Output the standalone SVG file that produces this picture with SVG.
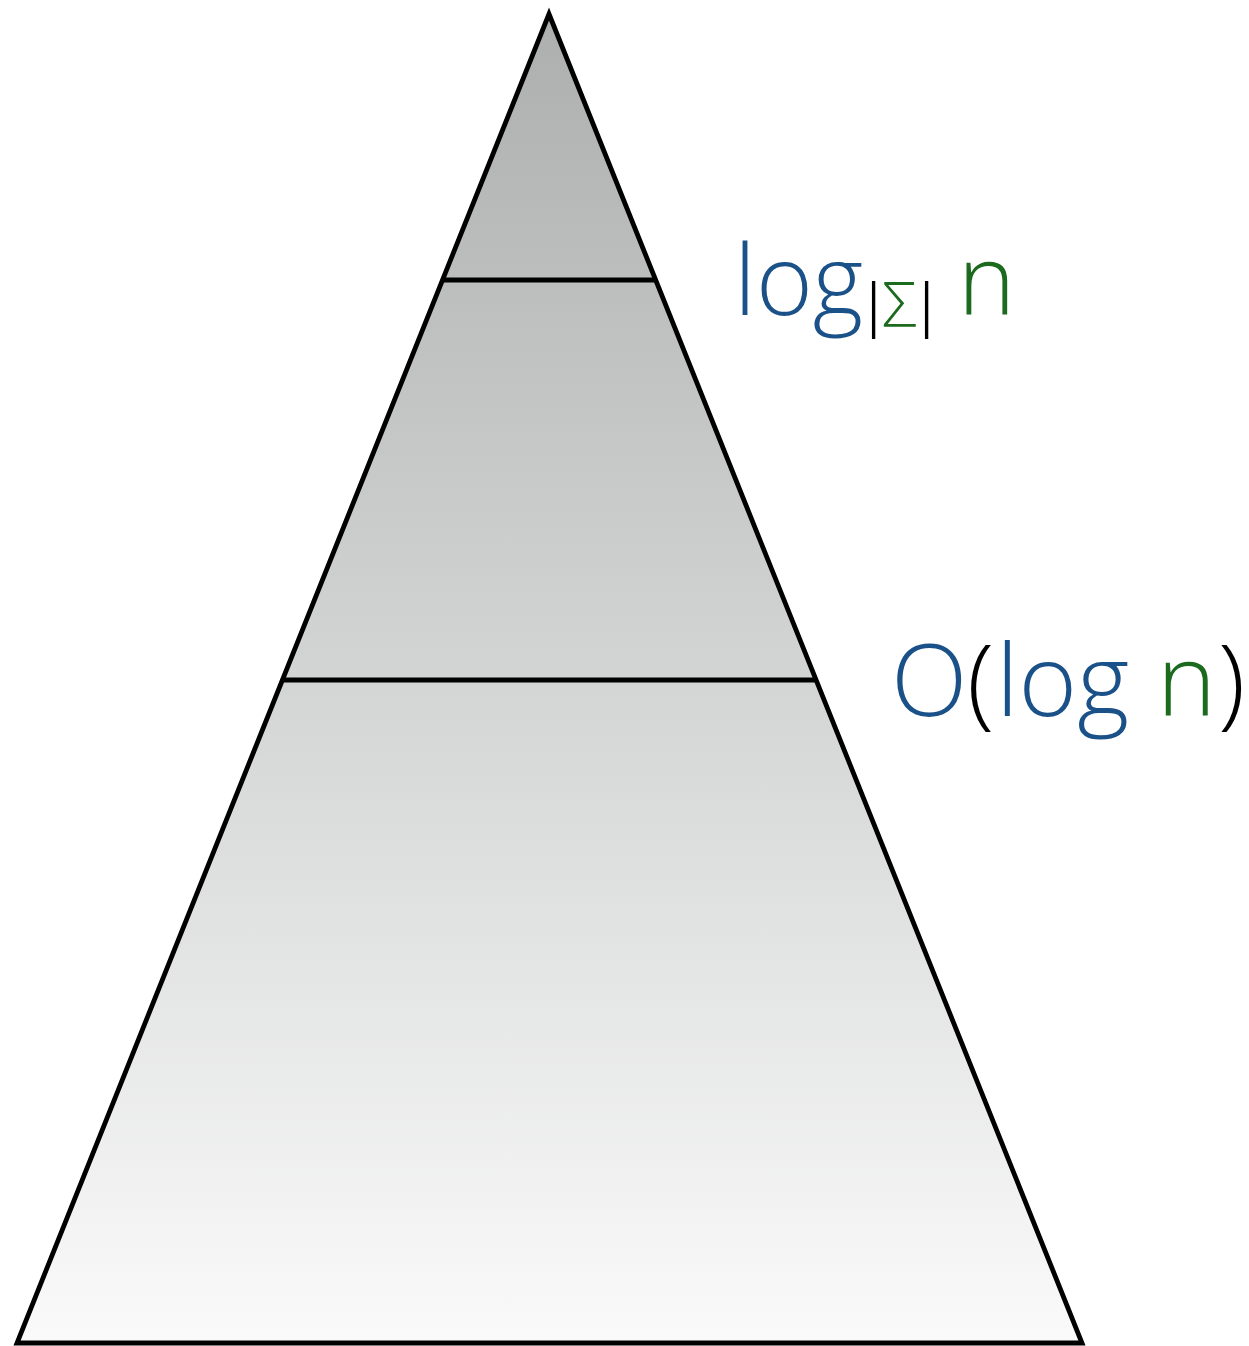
<svg xmlns="http://www.w3.org/2000/svg" width="1249" height="1346" viewBox="0 0 1249 1346">
  <style>
    .edge { stroke: #000; stroke-width: 4.8; stroke-linejoin: miter; }
    .lbl { font-family: "Open Sans", "Liberation Sans", sans-serif; font-weight: 300; }
    .bar { font-family: Roboto, "Liberation Sans", sans-serif; font-weight: 300; fill: #000; }
    .blue { fill: #1b5189; }
    .green { fill: #1c6a1d; }
    .black { fill: #000; }
  </style>
  <defs>
    <linearGradient id="shade" x1="0" y1="12" x2="0" y2="1343" gradientUnits="userSpaceOnUse">
      <stop offset="0" stop-color="#adafae"/>
      <stop offset="0.5" stop-color="#d3d4d4"/>
      <stop offset="1" stop-color="#fafafa"/>
    </linearGradient>
  </defs>
  <g id="pyramid">
    <polygon points="549,14 1082,1343 17,1343" style="fill:url(#shade)" class="edge"/>
  </g>
  <g id="levels">
    <line x1="444" y1="280" x2="655" y2="280" class="edge"/>
    <line x1="284" y1="680" x2="816" y2="680" class="edge"/>
  </g>
  <g id="label-top">
    <text class="lbl" font-size="97" y="315"><tspan class="blue" x="734">log</tspan><tspan class="bar" font-size="68" x="866" y="330">|</tspan><tspan class="green" font-size="63" x="882" y="327">Σ</tspan><tspan class="bar" font-size="68" x="919" y="330">|</tspan><tspan class="green" x="958" y="315">n</tspan></text>
  </g>
  <g id="label-bottom">
    <text class="lbl" font-size="100" y="716"><tspan class="blue" x="891">O</tspan><tspan class="black" x="967">(</tspan><tspan class="blue" x="996">log</tspan><tspan class="green" x="1157">n</tspan><tspan class="black" x="1218">)</tspan></text>
  </g>
</svg>
